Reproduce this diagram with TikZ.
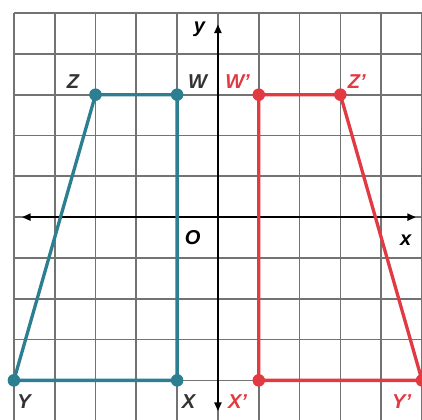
\documentclass[tikz,border=0pt]{standalone}
\usepackage{fontspec}
\setsansfont{Liberation Sans}
\usepackage{tikz}
\usetikzlibrary{arrows.meta}
\usepackage{xcolor}
\definecolor{pretrap}{HTML}{2C7F90}
\definecolor{imgtrap}{HTML}{E23A42}

\tikzset{
  lbl/.style={font=\sffamily\bfseries\itshape\fontsize{14}{16}\selectfont, inner sep=0pt},
  vtx/.style={circle, fill=#1, minimum size=0.3cm, inner sep=0pt},
}

\begin{document}
\begin{tikzpicture}
    \useasboundingbox (-5.34,-4.95) rectangle (5.0,5.32);
    \draw[black!55, line width=1.2pt] (-5,-5) grid (5,5);
    % axes
    \coordinate (xl) at (-4.8,0);
    \coordinate (xr) at (4.85,0);
    \coordinate (yb) at (0,-4.75);
    \coordinate (yt) at (0,4.72);
    \draw[line width=1.2pt, {Triangle[length=6pt,width=5pt]}-{Triangle[length=6pt,width=5pt]}] (xl) -- (xr);
    \draw[line width=1.2pt, {Triangle[length=6pt,width=5pt]}-{Triangle[length=6pt,width=5pt]}] (yb) -- (yt);
    \node[lbl] (lx) at (4.6,-0.56) {x};
    \node[lbl] (ly) at (-0.45,4.6) {y};
    \node[lbl] (lO) at (-0.62,-0.5) {O};
    % preimage
    \node[vtx=pretrap] (Z) at (-3,3) {};
    \node[vtx=pretrap] (W) at (-1,3) {};
    \node[vtx=pretrap] (X) at (-1,-4) {};
    \node[vtx=pretrap] (Y) at (-5,-4) {};
    \draw[pretrap, line width=2.3pt, line join=round] (Z.center) -- (W.center) -- (X.center) -- (Y.center) -- cycle;
    \node[vtx=pretrap] at (Z) {};
    \node[vtx=pretrap] at (W) {};
    \node[vtx=pretrap] at (X) {};
    \node[vtx=pretrap] at (Y) {};
    % image
    \node[vtx=imgtrap] (W') at (1,3) {};
    \node[vtx=imgtrap] (Z') at (3,3) {};
    \node[vtx=imgtrap] (Y') at (5,-4) {};
    \node[vtx=imgtrap] (X') at (1,-4) {};
    \draw[imgtrap, line width=2.3pt, line join=round] (W'.center) -- (Z'.center) -- (Y'.center) -- (X'.center) -- cycle;
    \node[vtx=imgtrap] at (W') {};
    \node[vtx=imgtrap] at (Z') {};
    \node[vtx=imgtrap] at (Y') {};
    \node[vtx=imgtrap] at (X') {};
    % vertex labels
    \node[lbl, black!80] (lZ) at (-3.55,3.32) {Z};
    \node[lbl, black!80] (lW) at (-0.5,3.32) {W};
    \node[lbl, black!80] (lY) at (-4.75,-4.52) {Y};
    \node[lbl, black!80] (lX) at (-0.72,-4.52) {X};
    \node[lbl, imgtrap] (lW') at (0.48,3.32) {W'};
    \node[lbl, imgtrap] (lZ') at (3.4,3.32) {Z'};
    \node[lbl, imgtrap] (lX') at (0.48,-4.52) {X'};
    \node[lbl, imgtrap] (lY') at (4.5,-4.52) {Y'};
\end{tikzpicture}
\end{document}
